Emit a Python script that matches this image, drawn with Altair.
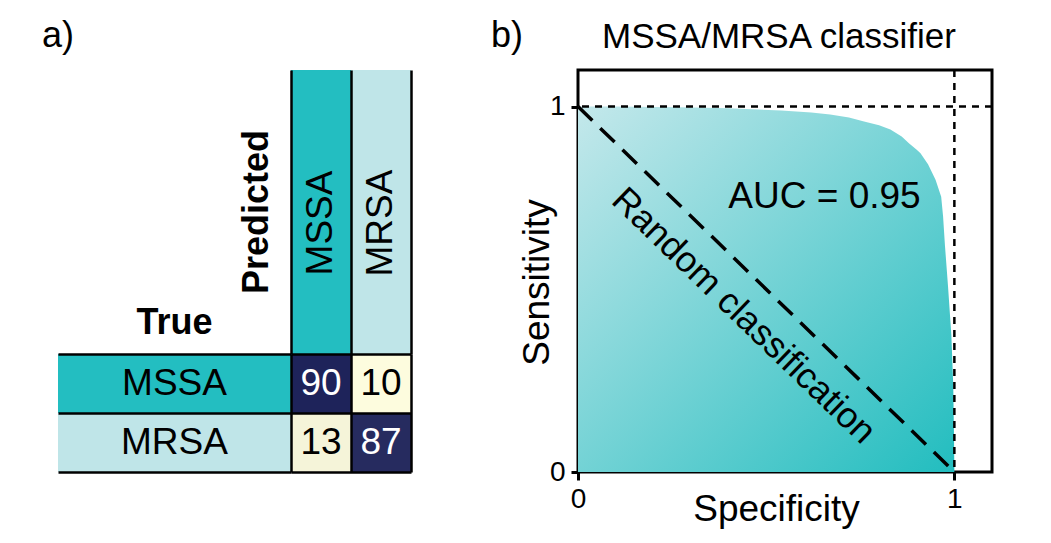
import altair as alt
import pandas as pd

# ---------------- data ----------------
classes = ["MSSA", "MRSA"]
class_colors = ["#23bec1", "#bfe5e8"]

cm_true = ["MSSA", "MSSA", "MRSA", "MRSA"]
cm_pred = ["MSSA", "MRSA", "MSSA", "MRSA"]
cm_value = [90, 10, 13, 87]

roc_spec = [0.0, 0.1, 0.2, 0.27, 0.4, 0.54, 0.62, 0.67, 0.72, 0.76, 0.80, 0.83,
            0.86, 0.88, 0.90, 0.91, 0.93, 0.95, 0.965, 0.97, 0.975, 0.983,
            0.992, 0.997, 0.999, 1.0]
roc_sens = [1.0, 1.0, 0.999, 0.998, 0.995, 0.989, 0.984, 0.978, 0.970, 0.959,
            0.949, 0.937, 0.918, 0.899, 0.882, 0.872, 0.842, 0.80, 0.753, 0.70,
            0.62, 0.51, 0.375, 0.238, 0.10, 0.0]

diag_spec = [0.0, 1.0]
diag_sens = [1.0, 0.0]
perfect_level = [1.0]

panel_labels = ["a)", "b)"]
auc_label = ["AUC = 0.95"]
auc_pos = [0.655, 0.753]
diag_label = ["Random classification"]
diag_label_pos = [0.44, 0.427]

FONT = "Liberation Sans"
FS = 36

# ---------------- panel a ----------------
grid_axis = alt.Axis(labels=False, ticks=False, domain=False, title=None, grid=True,
                     gridColor="black", gridWidth=2.5, gridOpacity=1,
                     tickBand="extent", zindex=1)
band = alt.Scale(domain=classes, paddingInner=0, paddingOuter=0)
cls_color = alt.Color("cls:N", scale=alt.Scale(domain=classes, range=class_colors), legend=None)
no_frame = alt.ViewBackground(stroke="transparent")

spacer = alt.Chart(pd.DataFrame({"label": [panel_labels[0]]})).mark_text(
    fontSize=FS, align="left", baseline="alphabetic", color="black"
).encode(text="label:N", x=alt.value(-16), y=alt.value(-23)).properties(
    width=233, height=284, view=no_frame)

col_base = alt.Chart(pd.DataFrame({"cls": classes})).encode(
    x=alt.X("cls:N", scale=band, axis=grid_axis))
colhead = alt.layer(
    col_base.mark_rect().encode(color=cls_color),
    col_base.mark_text(angle=270, fontSize=37, dx=-11, baseline="middle", color="black").encode(text="cls:N"),
).properties(width=120, height=284, view=no_frame,
             title=alt.Title("Predicted", orient="left", anchor="middle", fontSize=FS,
                             fontWeight="bold", offset=15))

row_base = alt.Chart(pd.DataFrame({"cls": classes})).encode(
    y=alt.Y("cls:N", scale=band, axis=grid_axis))
rowhead = alt.layer(
    row_base.mark_rect().encode(color=cls_color),
    row_base.mark_text(fontSize=37, baseline="middle", color="black").encode(text="cls:N"),
).properties(width=233, height=118, view=no_frame,
             title=alt.Title("True", anchor="middle", fontSize=FS, fontWeight="bold", offset=12))

cm_df = pd.DataFrame({"true": cm_true, "pred": cm_pred, "value": cm_value})
cm_base = alt.Chart(cm_df).encode(
    x=alt.X("pred:N", scale=band, axis=grid_axis),
    y=alt.Y("true:N", scale=band, axis=grid_axis))
matrix = alt.layer(
    cm_base.mark_rect().encode(color=alt.Color(
        "value:Q", scale=alt.Scale(domain=[10, 90], range=["#fdfcde", "#1e235a"], interpolate="rgb"),
        legend=None)),
    cm_base.mark_text(fontSize=37, baseline="middle").encode(
        text="value:Q",
        color=alt.condition("datum.value > 50", alt.value("white"), alt.value("black"))),
).properties(width=120, height=118, view=no_frame)

panel_a = alt.concat(spacer, colhead, rowhead, matrix, columns=2, spacing=0,
                     bounds="flush", align="each")

# ---------------- panel b ----------------
xs = alt.Scale(domain=[0, 1.1], nice=False)
ys = alt.Scale(domain=[0, 1.1], nice=False)
x_axis = alt.Axis(values=[0, 1], format="d", grid=False, domain=False, tickSize=8,
                  tickWidth=3, tickColor="black", labelFontSize=28, labelPadding=5,
                  labelFlush=False, labelColor="black", title="Specificity",
                  titleFontSize=37, titleFontWeight="normal", titleColor="black",
                  titleX=198, titleY=48, titleBaseline="alphabetic")
y_axis = alt.Axis(values=[0, 1], format="d", grid=False, domain=False, tickSize=7,
                  tickWidth=3, tickColor="black", labelFontSize=28, labelPadding=6,
                  labelFlush=False, labelColor="black", title="Sensitivity",
                  titleFontSize=37, titleFontWeight="normal", titleColor="black",
                  titleX=-30, titleY=212, titleBaseline="alphabetic")

gradient = alt.Gradient(
    gradient="linear", x1=0, y1=0, x2=1, y2=1,
    stops=[alt.GradientStop(color="#c4e8eb", offset=0),
           alt.GradientStop(color="#22bdbf", offset=1)])

roc_df = pd.DataFrame({"spec": roc_spec, "sens": roc_sens})
area = alt.Chart(roc_df).mark_area(color=gradient).encode(
    x=alt.X("spec:Q", scale=xs, axis=x_axis),
    y=alt.Y("sens:Q", scale=ys, axis=y_axis))

hline = alt.Chart(pd.DataFrame({"v": perfect_level})).mark_rule(
    color="black", strokeWidth=2.5, strokeDash=[7, 6]).encode(y=alt.Y("v:Q", scale=ys))
vline = alt.Chart(pd.DataFrame({"v": perfect_level})).mark_rule(
    color="black", strokeWidth=2.5, strokeDash=[7, 6]).encode(x=alt.X("v:Q", scale=xs))

diag = alt.Chart(pd.DataFrame({"spec": diag_spec, "sens": diag_sens})).mark_line(
    color="black", strokeWidth=3.5, strokeDash=[20, 11]).encode(
    x=alt.X("spec:Q", scale=xs), y=alt.Y("sens:Q", scale=ys))

auc_text = alt.Chart(pd.DataFrame({"t": auc_label, "x": [auc_pos[0]], "y": [auc_pos[1]]})).mark_text(
    fontSize=37, color="black", baseline="middle").encode(
    x=alt.X("x:Q", scale=xs), y=alt.Y("y:Q", scale=ys), text="t:N")

diag_text = alt.Chart(pd.DataFrame({"t": diag_label, "x": [diag_label_pos[0]], "y": [diag_label_pos[1]]})).mark_text(
    fontSize=FS, color="black", baseline="middle", angle=44).encode(
    x=alt.X("x:Q", scale=xs), y=alt.Y("y:Q", scale=ys), text="t:N")

b_label = alt.Chart(pd.DataFrame({"label": [panel_labels[1]]})).mark_text(
    fontSize=FS, align="left", baseline="alphabetic", color="black"
).encode(text="label:N", x=alt.value(-87), y=alt.value(-23))

panel_b = alt.layer(area, hline, vline, diag, auc_text, diag_text, b_label).properties(
    width=414, height=402,
    view=alt.ViewBackground(stroke="black", strokeWidth=3),
    title=alt.Title("MSSA/MRSA classifier", fontSize=35, fontWeight="normal",
                    color="black", offset=16, dx=-6, dy=53, frame="group"))

chart = alt.hconcat(panel_a, panel_b, spacing=77).properties(
    padding={"left": 33, "top": 8, "right": 5, "bottom": 5}
).configure(font=FONT).configure_title(font=FONT, color="black")

chart.save("out.html", embed_options={"renderer": "svg", "actions": False})
